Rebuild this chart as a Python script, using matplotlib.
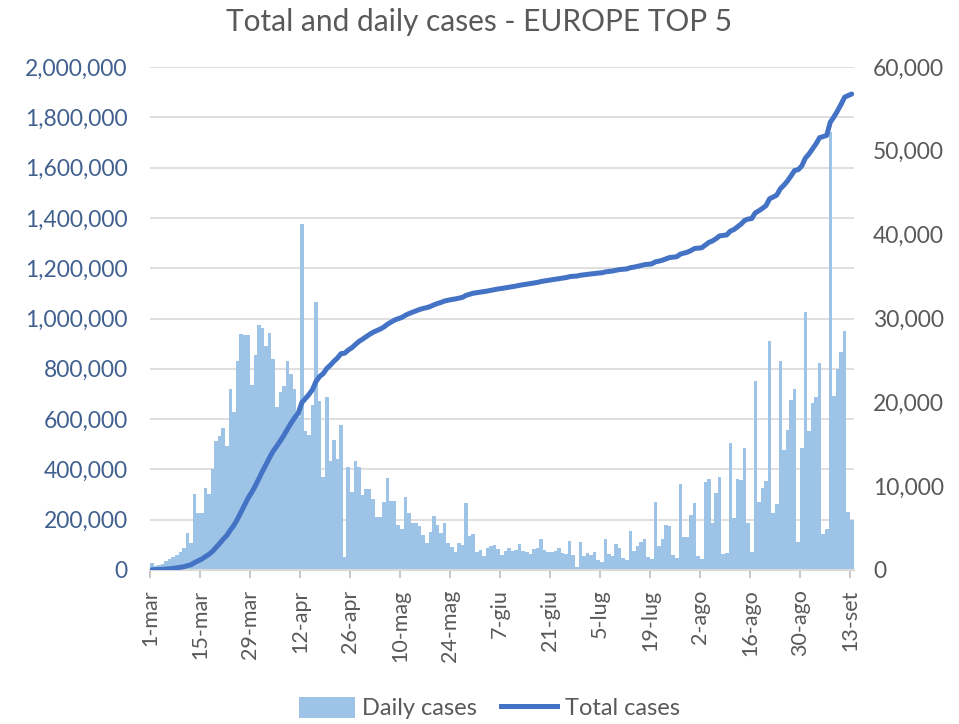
import numpy as np
import matplotlib
matplotlib.use("Agg")
import matplotlib.pyplot as plt
from matplotlib.ticker import FuncFormatter
from matplotlib.patches import Patch
from matplotlib.lines import Line2D

plt.rcParams['font.family'] = ['Lato', 'DejaVu Sans']

# daily new cases, 1-mar .. 13-set (one value per day)
daily = [
    850, 480, 560, 700, 1100, 1350, 1500, 1800, 2200, 2600,
    4370, 3250, 9050, 6750, 6750, 9730, 9050, 12000, 15400, 16000,
    16900, 14850, 21600, 18900, 24900, 28200, 28000, 28000, 22100, 25600,
    29200, 28900, 26700, 28300, 25200, 19500, 21200, 22000, 24900, 23400,
    21600, 18300, 41300, 16600, 16100, 19700, 32000, 20100, 11100, 20600,
    13000, 15500, 13300, 17300, 1500, 12300, 9300, 13000, 12300, 8900,
    9650, 9650, 8500, 6350, 6350, 8150, 11000, 8250, 8250, 5350,
    4850, 8650, 6800, 5550, 5650, 5250, 4150, 3200, 4550, 6450,
    5350, 4450, 5550, 3250, 2800, 2200, 3250, 3000, 7950, 4100,
    4300, 2200, 2400, 1650, 2600, 2900, 3000, 2450, 1800, 2300,
    2600, 2300, 2400, 3050, 2250, 2200, 1900, 2450, 2600, 3650,
    2400, 2200, 2200, 2300, 2600, 2050, 1900, 3500, 1800, 400,
    3350, 1650, 2000, 1800, 2100, 1200, 1000, 3750, 1900, 1650,
    3050, 2650, 1400, 1200, 4700, 2300, 2900, 3350, 3750, 1600,
    1300, 8150, 2850, 3750, 5350, 5250, 1800, 1400, 10300, 3900,
    3900, 6550, 8000, 1650, 1300, 10500, 10800, 5650, 9150, 11050,
    1900, 2050, 15100, 6150, 10800, 10700, 14600, 5650, 2200, 22600,
    8150, 9750, 10650, 27300, 6850, 7850, 24900, 14300, 16750, 20250,
    21550, 3300, 14500, 30800, 16600, 19950, 20650, 24700, 4350, 4950,
    52200, 20700, 24000, 26000, 28500, 6950, 5950,
]

tick_labels = ['1-mar', '15-mar', '29-mar', '12-apr', '26-apr', '10-mag',
               '24-mag', '7-giu', '21-giu', '5-lug', '19-lug', '2-ago',
               '16-ago', '30-ago', '13-set']

daily = np.array(daily)
total = np.cumsum(daily)
days = np.arange(len(daily))

bar_col = '#9DC3E6'
line_col = '#4472C4'
grey = '#595959'
blue_txt = '#41608F'

fig = plt.figure(figsize=(9.59, 7.24), dpi=100)
ax = fig.add_axes([150/959, 1-570/724, 703.5/959, 503/724])
ax2 = ax.twinx()

# left axis holds the total line, right axis the daily bars
ax2.bar(days, daily, width=1.0, align='edge', color=bar_col, linewidth=0, zorder=1)
ax.plot(days + 0.5, total, color=line_col, lw=3.6, solid_capstyle='round', zorder=3)

ax.set_zorder(ax2.get_zorder() + 1)
ax.patch.set_visible(False)

ax.set_xlim(0, len(daily))
ax.set_ylim(0, 2000000)
ax2.set_ylim(0, 60000)
ax.set_yticks(np.arange(0, 2000001, 200000))
ax2.set_yticks(np.arange(0, 60001, 10000))
ax.yaxis.set_major_formatter(FuncFormatter(lambda v, p: f'{int(v):,}'))
ax2.yaxis.set_major_formatter(FuncFormatter(lambda v, p: f'{int(v):,}'))

ax2.grid(False)
for y in np.arange(200000, 2000001, 200000):
    ax2.axhline(y * 60000 / 2000000, color='#D9D9D9', lw=1.2, zorder=0)

ax.set_xticks(np.arange(0, len(daily), 14))
ax.set_xticklabels(tick_labels, rotation=90)

for a in (ax, ax2):
    for s in ('top', 'left', 'right'):
        a.spines[s].set_visible(False)
    a.spines['bottom'].set_color('#D9D9D9')
    a.spines['bottom'].set_linewidth(1.5)

ax.tick_params(axis='x', colors='#BFBFBF', length=6, width=1.2, pad=8,
               labelsize=15.5, labelcolor=grey)
ax.tick_params(axis='y', length=0, pad=16, labelsize=16.5, labelcolor=blue_txt)
ax2.tick_params(axis='y', length=0, pad=14, labelsize=16.5, labelcolor=grey)

fig.text(0.5, 1-22/724, 'Total and daily cases - EUROPE TOP 5', ha='center', va='center',
         fontsize=21.5, color=grey)

handles = [Patch(facecolor=bar_col, edgecolor='none', label='Daily cases'),
           Line2D([0], [0], color=line_col, lw=3.6, label='Total cases')]
fig.legend(handles=handles, loc='center', bbox_to_anchor=(0.51, 1-708/724), ncol=2,
           frameon=False, fontsize=17, labelcolor=grey, handlelength=2.4,
           handleheight=1.0, columnspacing=1.0, handletextpad=0.3)

fig.savefig('out.png', dpi=100)
